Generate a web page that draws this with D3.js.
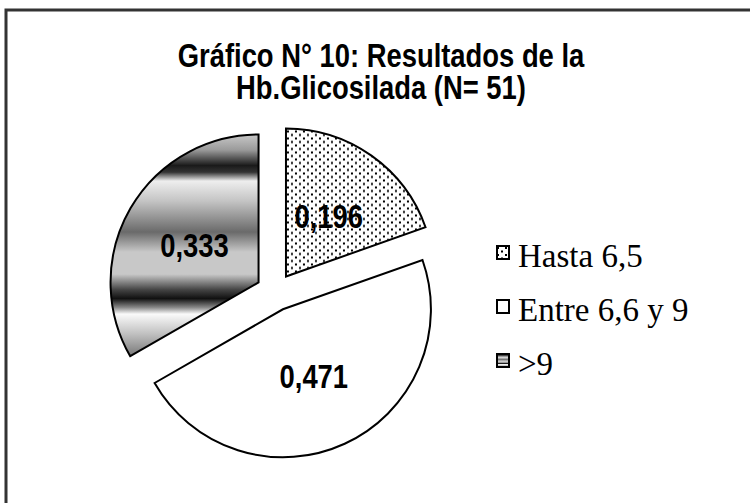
<!DOCTYPE html>
<html lang="es">
<head>
  <meta charset="UTF-8">
  <title>Gráfico N° 10</title>
  <script src="https://d3js.org/d3.v7.min.js"></script>
  <style>
    body {
      margin: 0;
      padding: 0;
      background-color: #fff;
      overflow: hidden;
    }
    .narrow {
      font-family: "Liberation Sans", Arial, sans-serif;
      font-weight: bold;
    }
    .legend text {
      font-family: "Liberation Serif", "Times New Roman", serif;
      font-size: 33px;
    }
  </style>
</head>
<body>
  <svg id="chart"></svg>
  <script>
const categories = ["Hasta 6,5", "Entre 6,6 y 9", ">9"];
const values = [0.196, 0.471, 0.333];
const valueLabels = ["0,196", "0,471", "0,333"];
const titleLines = ["Gráfico N° 10: Resultados de la", "Hb.Glicosilada (N= 51)"];

const width = 750;
const height = 503;
const radius = 148;
const explode = 19;
const cx = 275, cy = 292; // pie centre
const narrowX = 0.83; // no Arial Narrow here, squeeze Liberation Sans instead

const svg = d3.select("#chart")
  .attr("width", width)
  .attr("height", height);

const defs = svg.append("defs");

// dotted fill
const dots = defs.append("pattern")
  .attr("id", "dots")
  .attr("patternUnits", "userSpaceOnUse")
  .attr("width", 8)
  .attr("height", 7);
dots.append("rect").attr("width", 8).attr("height", 7).attr("fill", "#fff");
dots.append("rect").attr("x", 1).attr("y", 1).attr("width", 2).attr("height", 2).attr("fill", "#000");
dots.append("rect").attr("x", 5).attr("y", 4.5).attr("width", 2).attr("height", 2).attr("fill", "#000");

// metallic horizontal bands
const metal = defs.append("linearGradient")
  .attr("id", "metal")
  .attr("x1", 0).attr("y1", 0).attr("x2", 0).attr("y2", 1);
[
  [0, "#c8c8c8"], [0.07, "#9a9a9a"], [0.14, "#1a1a1a"], [0.17, "#333"],
  [0.21, "#eeeeee"], [0.30, "#c4c4c4"], [0.44, "#6a6a6a"], [0.53, "#c8c8c8"],
  [0.63, "#c8c8c8"], [0.70, "#444"], [0.74, "#111"], [0.78, "#888"],
  [0.81, "#fafafa"], [0.90, "#c0c0c0"], [1, "#777"]
].forEach(s => metal.append("stop").attr("offset", s[0]).attr("stop-color", s[1]));

const fills = ["url(#dots)", "#fff", "url(#metal)"];

// chart frame (only top and left edges are in view)
svg.append("rect")
  .attr("x", 6)
  .attr("y", 10)
  .attr("width", width + 20)
  .attr("height", height + 20)
  .attr("fill", "#fff")
  .attr("stroke", "#333")
  .attr("stroke-width", 3);

// title
const title = svg.append("text")
  .attr("class", "narrow")
  .attr("text-anchor", "middle")
  .attr("font-size", 33)
  .attr("fill", "#000")
  .attr("transform", `translate(381,0) scale(${narrowX},1)`);
titleLines.forEach((t, i) => {
  title.append("tspan")
    .attr("x", 0)
    .attr("y", 67 + i * 32)
    .text(t);
});

// pie
const pie = d3.pie().sort(null).value(d => d);
const arc = d3.arc().innerRadius(0).outerRadius(radius);
const arcs = pie(values);

const slices = svg.append("g")
  .attr("transform", `translate(${cx},${cy})`)
  .selectAll("g")
  .data(arcs)
  .join("g")
  .attr("transform", d => {
    const a = (d.startAngle + d.endAngle) / 2;
    return `translate(${Math.sin(a) * explode},${-Math.cos(a) * explode})`;
  });

slices.append("path")
  .attr("d", arc)
  .attr("fill", (d, i) => fills[i])
  .attr("stroke", "#000")
  .attr("stroke-width", 2)
  .attr("stroke-linejoin", "miter");

slices.append("text")
  .attr("class", "narrow")
  .attr("font-size", 33)
  .attr("text-anchor", "middle")
  .attr("dy", "0.36em")
  .attr("transform", d => `translate(${arc.centroid(d)}) scale(${narrowX},1)`)
  .text((d, i) => valueLabels[i]);

// legend
const legend = svg.append("g")
  .attr("class", "legend")
  .attr("transform", "translate(496,267)");

const items = legend.selectAll("g")
  .data(categories)
  .join("g")
  .attr("transform", (d, i) => `translate(0,${i * 54})`);

items.append("rect")
  .attr("x", 1)
  .attr("y", -21)
  .attr("width", 12)
  .attr("height", 13)
  .attr("fill", (d, i) => fills[i])
  .attr("stroke", "#000")
  .attr("stroke-width", 2);

items.append("text")
  .attr("x", 22)
  .attr("y", 0)
  .text(d => d);
  </script>
</body>
</html>
